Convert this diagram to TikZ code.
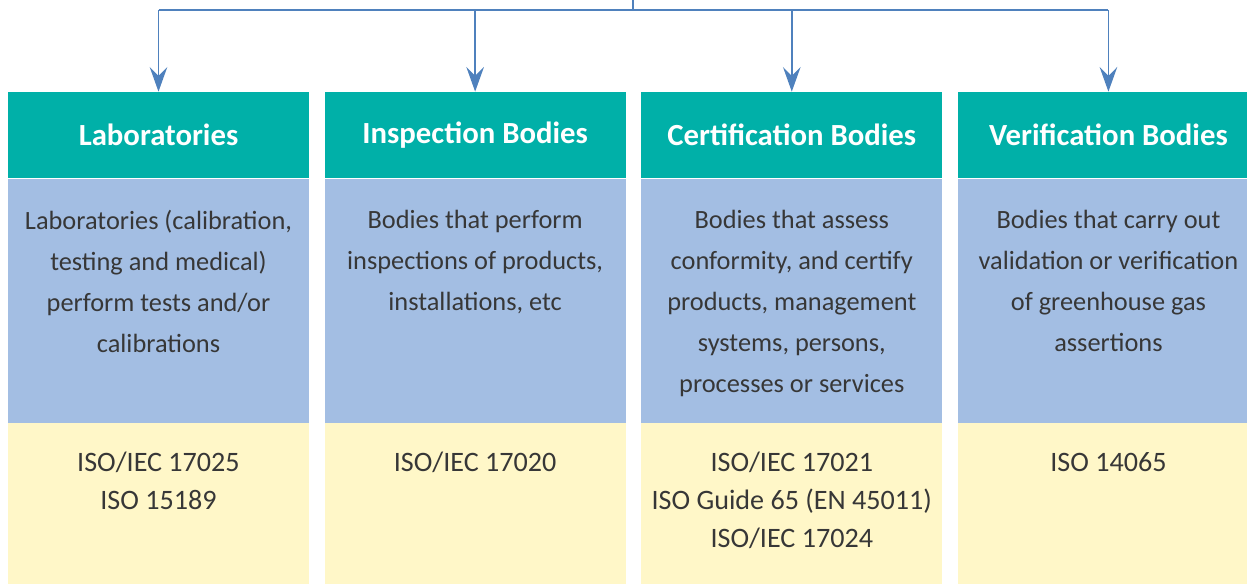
\documentclass[tikz,border=0pt]{standalone}
\usepackage{fontspec}
\setmainfont{Carlito}
\usepackage{tikz}
\usetikzlibrary{positioning}
\usetikzlibrary{arrows.meta}
\definecolor{headteal}{RGB}{0,176,168}
\definecolor{descblue}{RGB}{163,190,227}
\definecolor{stdyellow}{RGB}{255,247,200}
\definecolor{linkblue}{RGB}{79,129,189}
\definecolor{bodygray}{RGB}{55,55,55}
\tikzset{
headbox/.style={rectangle, fill=headteal, text=white, minimum width=6.02cm, minimum height=1.72cm, inner sep=0pt, font=\fontsize{17.5}{21}\selectfont\bfseries},
descbox/.style={rectangle, fill=descblue, minimum width=6.02cm, minimum height=4.88cm, inner sep=0pt},
stdbox/.style={rectangle, fill=stdyellow, minimum width=6.02cm, minimum height=3.4cm, inner sep=0pt},
desctext/.style={align=center, inner sep=0pt, text=bodygray, font=\fontsize{15}{23.3}\selectfont},
stdtext/.style={align=center, inner sep=0pt, text=bodygray, font=\fontsize{16}{21.6}\selectfont},
link/.style={draw=linkblue, line width=0.85pt},
}

\begin{document}
\begin{tikzpicture}[x=0.02cm,y=-0.02cm]
\clip (0,0) rectangle (1247,584);
\node[headbox] (lab-h) at (158.5,135) {Laboratories};
\node[headbox, right=0.3cm of lab-h] (insp-h) {Inspection Bodies};
\node[headbox, right=0.3cm of insp-h] (cert-h) {Certification Bodies};
\node[headbox, right=0.3cm of cert-h] (ver-h) {Verification Bodies};
\foreach \n in {lab,insp,cert,ver} {
\node[descbox, below=0pt of \n-h] (\n-d) {};
\node[stdbox, below=0pt of \n-d] (\n-s) {};
}
\node[desctext, below=0.64cm of lab-d.north] (lab-dt) {Laboratories (calibration,\\testing and medical)\\perform tests and/or\\calibrations};
\node[desctext, below=0.64cm of insp-d.north] (insp-dt) {Bodies that perform\\inspections of products,\\installations, etc};
\node[desctext, below=0.64cm of cert-d.north] (cert-dt) {Bodies that assess\\conformity, and certify\\products, management\\systems, persons,\\processes or services};
\node[desctext, below=0.64cm of ver-d.north] (ver-dt) {Bodies that carry out\\validation or verification\\of greenhouse gas\\assertions};
\node[stdtext, below=0.58cm of lab-s.north] (lab-st) {ISO/IEC 17025\\ISO 15189};
\node[stdtext, below=0.58cm of insp-s.north] (insp-st) {ISO/IEC 17020};
\node[stdtext, below=0.58cm of cert-s.north] (cert-st) {ISO/IEC 17021\\ISO Guide 65 (EN 45011)\\ISO/IEC 17024};
\node[stdtext, below=0.58cm of ver-s.north] (ver-st) {ISO 14065};
\coordinate (top) at (633,-5);
\coordinate (bus) at (633,10);
\draw[link] (top) -- (bus);
\draw[link] (lab-h.north |- bus) -- (ver-h.north |- bus);
\foreach \n in {lab,insp,cert,ver}
\draw[link, -{Stealth[length=14pt,width=10pt,inset=5pt]}] (\n-h.north |- bus) -- (\n-h.north);
\end{tikzpicture}
\end{document}
